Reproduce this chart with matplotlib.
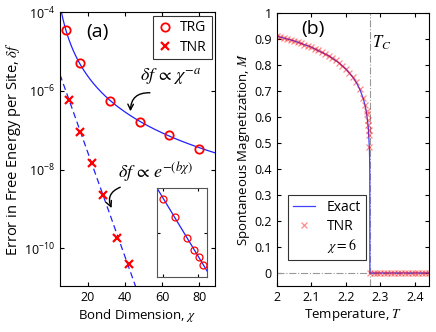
import numpy as np
import matplotlib
matplotlib.use("Agg")
import matplotlib.pyplot as plt
from matplotlib.ticker import FixedLocator, FuncFormatter, NullLocator

plt.rcParams['font.family'] = ['Open Sans', 'DejaVu Sans']
plt.rcParams['mathtext.fontset'] = 'stix'

# panel (a): error vs bond dimension
chi_trg = [8, 16, 32, 48, 64, 80]
df_trg = [3.5e-5, 5.1e-6, 5.6e-7, 1.6e-7, 7.7e-8, 3.4e-8]
chi_tnr = [10, 16, 22, 28, 36, 42]
df_tnr = [5.9e-7, 9.1e-8, 1.5e-8, 2.3e-9, 1.8e-10, 3.9e-11]

# panel (b): magnetization vs temperature
T_exact = [2.00, 2.05, 2.10, 2.15, 2.18, 2.20, 2.22, 2.23, 2.24, 2.25, 2.255,
           2.26, 2.265, 2.268, 2.2685, 2.269, 2.2692, 2.45]
M_exact = [0.9113, 0.8928, 0.8687, 0.8357, 0.8084, 0.7847, 0.7535, 0.7331, 0.7073,
           0.6719, 0.6473, 0.6134, 0.5563, 0.4750, 0.4443, 0.3784, 0.0, 0.0]
T_tnr = [2.00, 2.01, 2.02, 2.03, 2.04, 2.05, 2.06, 2.07, 2.08, 2.09, 2.10, 2.11,
         2.12, 2.13, 2.14, 2.15, 2.16, 2.17, 2.18, 2.19, 2.20, 2.21, 2.22, 2.23,
         2.24, 2.25, 2.255, 2.26, 2.262, 2.264, 2.265, 2.266, 2.267, 2.268,
         2.27, 2.28, 2.29, 2.30, 2.31, 2.32, 2.33, 2.34, 2.35, 2.36, 2.37, 2.38,
         2.39, 2.40, 2.41, 2.42, 2.43, 2.44]
M_tnr = [0.911, 0.908, 0.904, 0.901, 0.897, 0.893, 0.888, 0.884, 0.879, 0.874,
         0.869, 0.863, 0.857, 0.850, 0.843, 0.836, 0.828, 0.818, 0.808, 0.797,
         0.785, 0.770, 0.753, 0.733, 0.707, 0.672, 0.647, 0.625, 0.61, 0.59,
         0.57, 0.55, 0.53, 0.485,
         0, 0, 0, 0, 0, 0, 0, 0, 0, 0, 0, 0, 0, 0, 0, 0, 0, 0]
Tc = 2.269

fig = plt.figure(figsize=(4.36, 3.32), dpi=100)

# ---------- (a)
ax = fig.add_axes([0.1376, 0.1386, 0.3555, 0.825])
# power-law fit for TRG, exponential fit for TNR
p1 = np.polyfit(np.log10(chi_trg), np.log10(df_trg), 1)
xx = np.linspace(5, 90, 200)
ax.plot(xx, 10 ** np.polyval(p1, np.log10(xx)), color='#2020ff', lw=0.9)
p2 = np.polyfit(chi_tnr, np.log10(df_tnr), 1)
ax.plot(xx, 10 ** np.polyval(p2, xx), color='#2020ff', lw=0.9, ls=(0, (5, 3)))
ax.plot(chi_trg, df_trg, 'o', mfc='none', mec='red', mew=1.3, ms=6, label='TRG')
ax.plot(chi_tnr, df_tnr, 'x', color='red', mew=1.6, ms=6, label='TNR')
ax.set_yscale('log')
ax.set_xlim(5, 88.6)
ax.set_ylim(1.1e-11, 1e-4)
ax.set_xticks([20, 40, 60, 80])
ax.yaxis.set_major_locator(FixedLocator([1e-10, 1e-8, 1e-6, 1e-4]))
ax.yaxis.set_minor_locator(NullLocator())
ax.yaxis.set_major_formatter(FuncFormatter(
    lambda v, p: r'$\mathregular{10^{%d}}$' % round(np.log10(v))))
ax.tick_params(direction='in', top=True, right=True, labelsize=9, length=3)
ax.set_xlabel(r'Bond Dimension, $\chi$', fontsize=9.5, labelpad=2)
ax.set_ylabel(r'Error in Free Energy per Site, $\delta f$', fontsize=10.5, labelpad=1)
ax.text(0.24, 0.927, '(a)', transform=ax.transAxes, fontsize=14,
        ha='center', va='center')
leg = ax.legend(loc='upper right', fontsize=10, frameon=True, fancybox=False,
                edgecolor='black', handlelength=1.0, borderaxespad=0.25,
                handletextpad=0.6, borderpad=0.35, labelspacing=0.3)
leg.get_frame().set_linewidth(0.8)
ax.text(48, 10 ** -5.65, r'$\delta f\,\propto\,\chi^{-a}$', fontsize=13,
        ha='left', va='center')
ax.annotate('', xy=(43.0, 10 ** -6.52), xytext=(53.5, 10 ** -6.05),
            arrowprops=dict(arrowstyle='->', color='black', lw=1.0,
                            shrinkA=0, shrinkB=0,
                            connectionstyle='arc3,rad=0.5'))
ax.text(36.2, 10 ** -8.08, r'$\delta f\,\propto\,e^{-(b\chi)}$', fontsize=13,
        ha='left', va='center')
ax.annotate('', xy=(32.8, 10 ** -8.98), xytext=(37.5, 10 ** -8.45),
            arrowprops=dict(arrowstyle='->', color='black', lw=1.0,
                            shrinkA=0, shrinkB=0,
                            connectionstyle='arc3,rad=0.5'))

# inset
ins = fig.add_axes([0.360, 0.166, 0.115, 0.268])
xi = np.logspace(np.log10(5.6), 2, 50)
ins.plot(xi, 10 ** np.polyval(p1, np.log10(xi)), color='#2020ff', lw=0.9)
ins.plot(chi_trg, df_trg, 'o', mfc='none', mec='red', mew=0.9, ms=5)
ins.set_xscale('log')
ins.set_yscale('log')
ins.set_xlim(5.6, 100)
ins.set_ylim(1e-8, 1.1e-4)
ins.xaxis.set_major_locator(FixedLocator([8, 60]))
ins.yaxis.set_major_locator(FixedLocator([1e-6]))
ins.xaxis.set_minor_locator(NullLocator())
ins.yaxis.set_minor_locator(NullLocator())
ins.tick_params(direction='in', top=True, right=True, length=2,
                labelbottom=False, labelleft=False)
for s in ins.spines.values():
    s.set_color('#555555')

# ---------- (b)
bx = fig.add_axes([0.635, 0.1386, 0.3486, 0.822])
bx.axvline(Tc, color='#999999', lw=0.8, ls='-.')
bx.axhline(0, color='#999999', lw=0.8, ls='-.')
bx.plot(T_exact, M_exact, color='#4040ff', lw=0.9, label='Exact')
bx.plot(T_tnr, M_tnr, 'x', color='red', alpha=0.45, ms=4, mew=0.9, label='TNR')
bx.plot([], [], ' ', label=r'$\chi = 6$')
bx.set_xlim(2, 2.44)
bx.set_ylim(-0.05, 1)
bx.set_xticks([2, 2.1, 2.2, 2.3, 2.4])
bx.set_xticklabels(['2', '2.1', '2.2', '2.3', '2.4'])
yt = [0, 0.1, 0.2, 0.3, 0.4, 0.5, 0.6, 0.7, 0.8, 0.9, 1]
bx.set_yticks(yt)
bx.set_yticklabels(['0', '0.1', '0.2', '0.3', '0.4', '0.5', '0.6', '0.7',
                    '0.8', '0.9', '1'])
bx.tick_params(direction='in', top=True, right=True, labelsize=9, length=3)
bx.set_xlabel(r'Temperature, $T$', fontsize=9.5, labelpad=2)
bx.set_ylabel(r'Spontaneous Magnetization, $M$', fontsize=9.5, labelpad=2)
bx.text(0.237, 0.94, '(b)', transform=bx.transAxes, fontsize=14,
        ha='center', va='center')
bx.text(2.276, 0.885, r'$T_C$', fontsize=12, ha='left', va='center')
leg2 = bx.legend(loc='lower left', bbox_to_anchor=(0.03, 0.07), fontsize=10,
                 frameon=True, fancybox=False, edgecolor='black',
                 handlelength=1.6, borderpad=0.35, labelspacing=0.25,
                 handletextpad=0.8)
leg2.get_frame().set_linewidth(0.8)

fig.savefig('out.png', dpi=100)
